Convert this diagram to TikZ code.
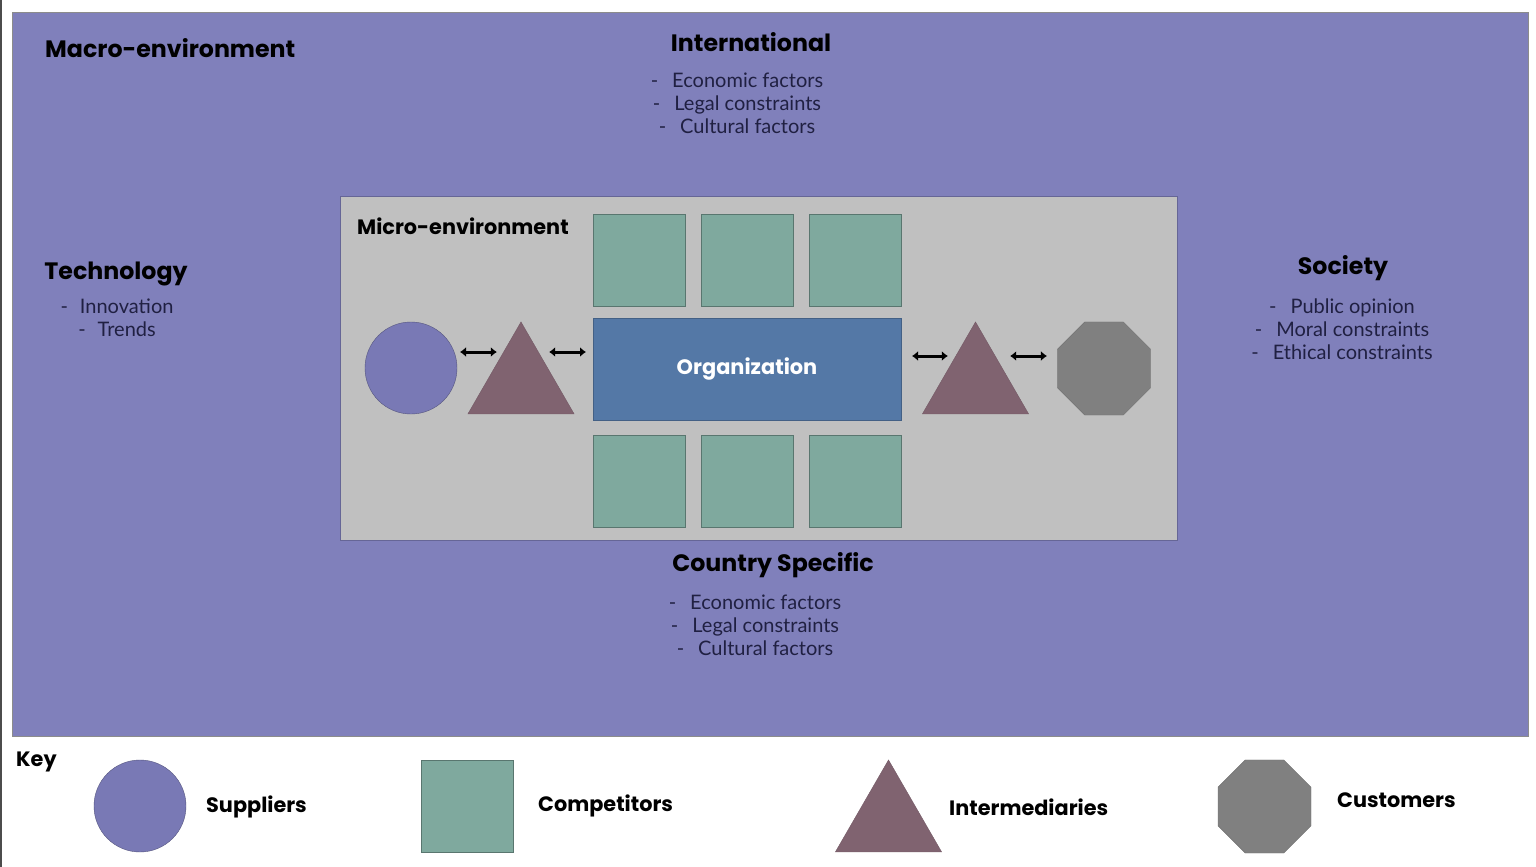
\documentclass[tikz,border=0pt]{standalone}
\usepackage{fontspec}
\setmainfont{Lato}
\newfontfamily\headfont{Poppins}
\usetikzlibrary{shapes.geometric,arrows.meta,positioning}
\definecolor{macrobg}{RGB}{128,128,187}
\definecolor{microbg}{RGB}{192,192,192}
\definecolor{compgreen}{RGB}{127,169,158}
\definecolor{orgblue}{RGB}{84,120,166}
\definecolor{intercol}{RGB}{128,99,112}
\definecolor{custcol}{RGB}{128,128,128}
\definecolor{suppcol}{RGB}{121,121,181}
\definecolor{itemtxt}{RGB}{32,32,66}

\begin{document}
\begin{tikzpicture}[x=1pt,y=-1pt,>={Latex[length=6pt,width=10pt]},
    heading/.style={font=\headfont\bfseries\fontsize{23.7}{28}\selectfont,inner sep=0pt},
    subhead/.style={font=\headfont\bfseries\fontsize{20.8}{25}\selectfont,inner sep=0pt},
    items/.style={align=center,text=itemtxt,inner sep=0pt,
                  font=\fontsize{20}{23}\selectfont},
    compbox/.style={draw=compgreen!70!black,fill=compgreen,minimum size=92pt,
                    inner sep=0pt,outer sep=0pt},
    suppnode/.style={circle,draw=suppcol!70!black,fill=suppcol,minimum size=92pt,
                     inner sep=0pt,outer sep=0pt},
    internode/.style={regular polygon,regular polygon sides=3,fill=intercol,
                      draw=intercol!90!black,minimum size=122.7pt,inner sep=0pt,outer sep=0pt},
    custnode/.style={regular polygon,regular polygon sides=8,fill=custcol,
                     draw=custcol!90!black,minimum size=100.7pt,inner sep=0pt,outer sep=0pt},
    biarrow/.style={<->,line width=3pt,black}]

  \useasboundingbox (0,0) rectangle (1536,867);
  \fill[white] (0,0) rectangle (1536,867);
  \draw[black!70,line width=2pt] (1,0) -- (1,867);

  % environments
  \node[draw=black!45,fill=macrobg,minimum width=1516pt,minimum height=724pt,
        inner sep=0pt] (macro) at (770,374) {};
  \node[draw=macrobg!80!black,fill=microbg,minimum width=837pt,minimum height=344pt,
        inner sep=0pt] (micro) at (758.5,368) {};

  \node[heading,anchor=west] (macrot) at (45,48) {Macro-environment};
  \node[subhead,anchor=west] (microt) at (357,226) {Micro-environment};

  % macro factors
  \node[heading] (intl) at (751,42) {International};
  \node[items] (intli) at (737,103)
       {-\hspace{14pt}Economic factors\\-\hspace{14pt}Legal constraints\\-\hspace{14pt}Cultural factors};
  \node[heading] (tech) at (116,274) {Technology};
  \node[items] (techi) at (117,318) {-\hspace{12pt}Innovation\\-\hspace{12pt}Trends};
  \node[heading] (soc) at (1343,268) {Society};
  \node[items] (soci) at (1342,329)
       {-\hspace{14pt}Public opinion\\-\hspace{14pt}Moral constraints\\-\hspace{14pt}Ethical constraints};
  \node[heading] (ctry) at (773,565) {Country Specific};
  \node[items] (ctryi) at (755,625)
       {-\hspace{14pt}Economic factors\\-\hspace{14pt}Legal constraints\\-\hspace{14pt}Cultural factors};

  % micro environment
  \node[draw=orgblue!80!black,fill=orgblue,minimum width=308pt,minimum height=102pt,
        inner sep=0pt,outer sep=0pt,text=white,
        font=\headfont\bfseries\fontsize{20.9}{25}\selectfont] (org) at (747,369) {Organization};

  \node[compbox] (comp1) [above right=12pt and 0pt of org.north west] {};
  \node[compbox] (comp2) [right=16pt of comp1] {};
  \node[compbox] (comp3) [right=16pt of comp2] {};
  \node[compbox] (comp4) [below right=15pt and 0pt of org.south west] {};
  \node[compbox] (comp5) [right=16pt of comp4] {};
  \node[compbox] (comp6) [right=16pt of comp5] {};

  \node[suppnode]  (supp)   at (411,368)    {};
  \node[internode] (interL) at (521,383.3)  {};
  \node[internode] (interR) at (975.5,383.3) {};
  \node[custnode]  (cust)   at (1104,368.5) {};

  \draw[biarrow] ([xshift=3pt,yshift=16pt]supp.east) -- ([xshift=11.3pt,yshift=31.3pt]interL.west);
  \draw[biarrow] ([xshift=-7.3pt,yshift=31.3pt]interL.east) -- ([xshift=-7pt,yshift=17pt]org.west);
  \draw[biarrow] ([xshift=11pt,yshift=13pt]org.east) -- ([xshift=7.8pt,yshift=27.3pt]interR.west);
  \draw[biarrow] ([xshift=-0.8pt,yshift=27.3pt]interR.east) -- ([xshift=-10.5pt,yshift=12.5pt]cust.west);

  % key
  \node[subhead,anchor=west] (key) at (16,762) {Key};
  \node[suppnode]  (keysupp)  at (140,806)     {};
  \node[subhead,anchor=west] (keysuppt) at (206,807) {Suppliers};
  \node[compbox]   (keycomp)  at (467,806.5)   {};
  \node[subhead,anchor=west] (keycompt) at (538,806) {Competitors};
  \node[internode] (keyinter) at (888.5,821.3) {};
  \node[subhead,anchor=west] (keyintert) at (949,807) {Intermediaries};
  \node[custnode]  (keycust)  at (1264.5,806.5) {};
  \node[subhead,anchor=west] (keycustt) at (1337,800) {Customers};
\end{tikzpicture}
\end{document}
